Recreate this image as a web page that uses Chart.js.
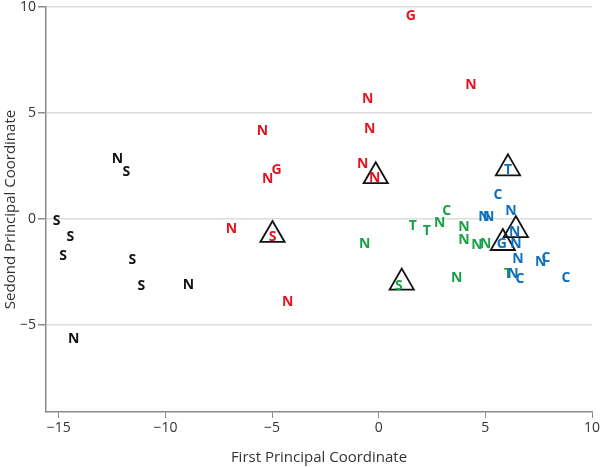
<!DOCTYPE html>
<html>
<head>
<meta charset="utf-8">
<script src="https://cdn.jsdelivr.net/npm/chart.js@4/dist/chart.umd.min.js"></script>
<style>
  html, body { margin: 0; padding: 0; background: #fff; }
  #wrap { width: 600px; height: 467px; }
</style>
</head>
<body>
<div id="wrap"><canvas id="pcoaChart" width="600" height="467"></canvas></div>
<script>
// Letters plotted at each coordinate, grouped by colour
const blackLabels = ['N', 'S', 'S', 'S', 'S', 'S', 'S', 'N', 'N'];
const blackX = [-12.25, -11.83, -15.1, -14.46, -14.8, -11.55, -11.13, -8.92, -14.3];
const blackY = [2.86, 2.25, -0.05, -0.8, -1.69, -1.88, -3.1, -3.05, -5.63];

const redLabels = ['G', 'N', 'N', 'N', 'N', 'N', 'N', 'G', 'N', 'N', 'S', 'N'];
const redX = [1.5, 4.32, -0.52, -0.42, -0.75, -0.19, -5.45, -4.79, -5.21, -6.9, -4.98, -4.27];
const redY = [9.6, 6.38, 5.73, 4.27, 2.63, 1.97, 4.18, 2.35, 1.92, -0.42, -0.8, -3.85];

const greenLabels = ['N', 'T', 'T', 'N', 'C', 'N', 'N', 'N', 'S', 'N', 'N', 'T'];
const greenX = [-0.66, 1.6, 2.25, 2.86, 3.19, 3.99, 3.99, 3.66, 0.94, 4.6, 5.02, 6.06];
const greenY = [-1.11, -0.27, -0.51, -0.15, 0.42, -0.33, -0.94, -2.72, -3.1, -1.17, -1.13, -2.54];

const blueLabels = ['T', 'C', 'N', 'N', 'N', 'N', 'G', 'N', 'N', 'N', 'C', 'N', 'C', 'C'];
const blueX = [6.06, 5.59, 4.93, 5.16, 6.2, 6.38, 5.77, 6.43, 6.53, 7.6, 7.84, 6.29, 6.62, 8.78];
const blueY = [2.35, 1.17, 0.14, 0.14, 0.42, -0.56, -1.13, -1.13, -1.83, -1.97, -1.78, -2.54, -2.77, -2.72];

// Open triangles marking group centres
const triX = [-0.14, -4.98, 6.06, 1.08, 6.43, 5.82];
const triY = [2.02, -0.75, 2.39, -3.0, -0.52, -1.13];

const xTicks = [-15, -10, -5, 0, 5, 10];
const yTicks = [-5, 0, 5, 10];

function toPoints(xs, ys, labels) {
    return xs.map((x, i) => ({ x: x, y: ys[i], label: labels ? labels[i] : '' }));
}

function letterSet(name, xs, ys, labels, color) {
    return {
        label: name,
        data: toPoints(xs, ys, labels),
        letterColor: color,
        pointRadius: 0,
        pointHoverRadius: 0,
        showLine: false
    };
}

// draws each letter at its point position
const letterPlugin = {
    id: 'letters',
    afterDatasetsDraw(chart) {
        const ctx = chart.ctx;
        ctx.save();
        ctx.font = 'bold 14px "Open Sans"';
        ctx.textAlign = 'center';
        ctx.textBaseline = 'middle';
        chart.data.datasets.forEach((ds, i) => {
            if (!ds.letterColor) return;
            const meta = chart.getDatasetMeta(i);
            ctx.fillStyle = ds.letterColor;
            meta.data.forEach((pt, j) => {
                ctx.fillText(ds.data[j].label, pt.x, pt.y + 1);
            });
        });
        ctx.restore();
    }
};

const minus = v => String(v).replace('-', '\u2212');

// keep tick labels from pushing the plot area in
function noOverflow(scale) {
    scale.paddingTop = 0;
    scale.paddingRight = 0;
    scale.paddingLeft = 0;
    scale.paddingBottom = 0;
}

new Chart(document.getElementById('pcoaChart').getContext('2d'), {
    type: 'scatter',
    data: {
        datasets: [
            {
                label: 'centres',
                data: toPoints(triX, triY),
                pointStyle: 'triangle',
                pointRadius: 14,
                pointHoverRadius: 14,
                borderColor: '#111',
                borderWidth: 1.8,
                backgroundColor: 'rgba(0,0,0,0)'
            },
            letterSet('black', blackX, blackY, blackLabels, '#111111'),
            letterSet('red', redX, redY, redLabels, '#e3141f'),
            letterSet('green', greenX, greenY, greenLabels, '#1aa048'),
            letterSet('blue', blueX, blueY, blueLabels, '#0d6fbd')
        ]
    },
    options: {
        responsive: false,
        animation: false,
        layout: { autoPadding: false, padding: { top: 7, right: 8, left: 0, bottom: 0 } },
        plugins: {
            legend: { display: false },
            tooltip: { enabled: false }
        },
        scales: {
            x: {
                type: 'linear',
                min: -15.6,
                max: 10,
                afterFit(scale) { scale.height = 55; noOverflow(scale); },
                afterBuildTicks(scale) { scale.ticks = xTicks.map(v => ({ value: v })); },
                ticks: { color: '#333', font: { family: 'Open Sans', size: 14 }, padding: 2, callback: minus },
                grid: { drawOnChartArea: false, drawTicks: true, tickLength: 6, tickColor: '#8a8a8a' },
                border: { color: '#8a8a8a', width: 1.5 },
                title: {
                    display: true,
                    text: 'First Principal Coordinate',
                    color: '#333',
                    font: { family: 'Open Sans', size: 15 },
                    padding: { top: 2, bottom: 0 }
                }
            },
            y: {
                type: 'linear',
                min: -9.1,
                max: 10,
                afterFit(scale) { scale.width = 46; noOverflow(scale); },
                afterBuildTicks(scale) { scale.ticks = yTicks.map(v => ({ value: v })); },
                ticks: { color: '#333', font: { family: 'Open Sans', size: 14 }, padding: 2, callback: minus },
                grid: { color: '#dddddd', lineWidth: 1.5, drawTicks: true, tickLength: 8, tickColor: '#8a8a8a' },
                border: { color: '#8a8a8a', width: 1.5 },
                title: {
                    display: true,
                    text: 'Sedond Principal Coordinate',
                    color: '#333',
                    font: { family: 'Open Sans', size: 15 },
                    padding: { top: 2, bottom: 0 }
                }
            }
        }
    },
    plugins: [letterPlugin]
});
</script>
</body>
</html>
